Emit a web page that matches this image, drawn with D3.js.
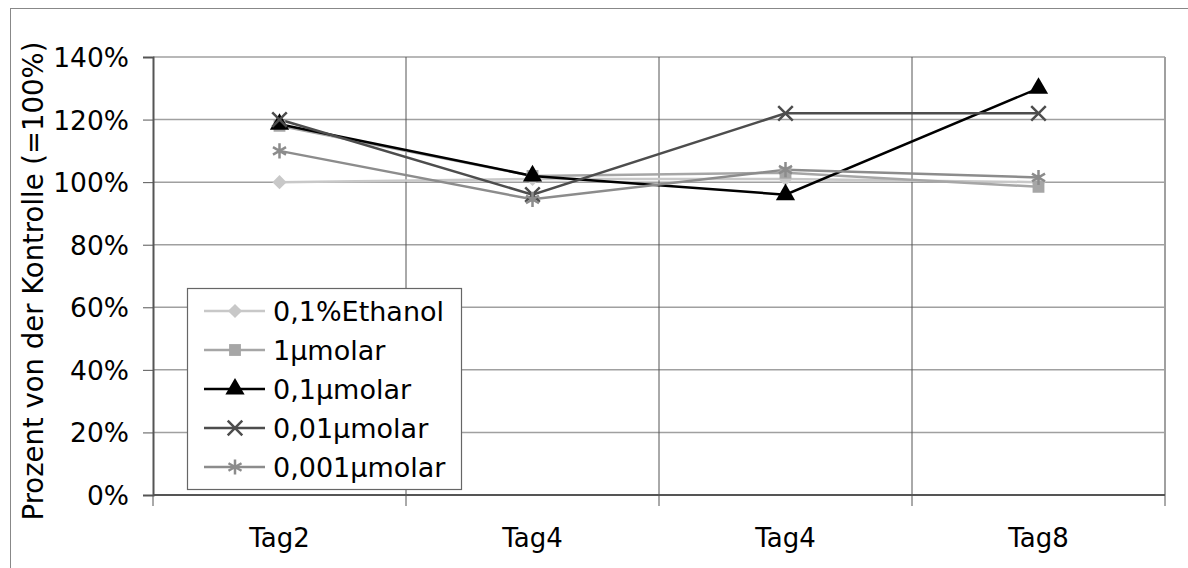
<!DOCTYPE html>
<html>
<head>
<meta charset="utf-8">
<script src="https://cdn.jsdelivr.net/npm/d3@7"></script>
<style>
  body { margin: 0; background: #fff; }
  svg { display: block; font-family: "DejaVu Sans", Verdana, sans-serif; }
</style>
</head>
<body>
<svg id="chart" width="1188" height="568"></svg>
<script>
// Categories (two columns are both labelled "Tag4" in the original)
const categories = ['Tag2', 'Tag4', 'Tag4', 'Tag8'];
const yTicks = [0, 20, 40, 60, 80, 100, 120, 140];

const seriesNames = ['0,1%Ethanol', '1µmolar', '0,1µmolar', '0,01µmolar', '0,001µmolar'];
const ethanol  = [100, 101, 101, 100];
const molar1   = [118, 102, 103, 98.5];
const molar01  = [118.5, 102, 96, 130];
const molar001 = [120, 96, 122, 122];
const molar0001 = [110, 94.5, 104, 101.5];

const seriesColors = ['#c8c8c8', '#a6a6a6', '#000000', '#4d4d4d', '#8c8c8c'];
// diamond is drawn as a square turned by 45 degrees
const seriesSymbols = [d3.symbolSquare, d3.symbolSquare, d3.symbolTriangle, d3.symbolX, d3.symbolAsterisk];
const symbolRotate = [45, 0, 0, 0, 0];
const symbolSizes = [100, 140, 160, 140, 160];

const series = [ethanol, molar1, molar01, molar001, molar0001].map((values, i) => ({
  name: seriesNames[i], values, color: seriesColors[i], symbol: seriesSymbols[i],
  size: symbolSizes[i], rotate: symbolRotate[i]
}));

const svg = d3.select('#chart');
const margin = { top: 57, right: 23, bottom: 73, left: 153 };
const width = 1188 - margin.left - margin.right;
const height = 568 - margin.top - margin.bottom;

// outer frame
svg.append('rect')
  .attr('x', 10.5).attr('y', 8.5)
  .attr('width', 1188).attr('height', 580)
  .attr('fill', 'none').attr('stroke', '#888').attr('stroke-width', 1);

const g = svg.append('g').attr('transform', `translate(${margin.left},${margin.top})`);

const x = d3.scaleBand().domain(d3.range(categories.length)).range([0, width]);
const y = d3.scaleLinear().domain([0, 140]).range([height, 0]);

// horizontal gridlines
g.append('g')
  .selectAll('line')
  .data(yTicks.filter(t => t > 0))
  .join('line')
  .attr('x1', 0).attr('x2', width)
  .attr('y1', d => y(d)).attr('y2', d => y(d))
  .attr('stroke', '#a0a0a0').attr('stroke-width', 1.5);

// vertical gridlines between categories
g.append('g')
  .selectAll('line')
  .data(d3.range(1, categories.length))
  .join('line')
  .attr('x1', d => x(d)).attr('x2', d => x(d))
  .attr('y1', 0).attr('y2', height)
  .attr('stroke', '#555').attr('stroke-width', 1);

// right border of plot
g.append('line')
  .attr('x1', width).attr('x2', width).attr('y1', 0).attr('y2', height)
  .attr('stroke', '#a0a0a0').attr('stroke-width', 2);

// y axis
const yAxis = g.append('g')
  .call(d3.axisLeft(y).tickValues(yTicks).tickSize(10).tickPadding(14).tickFormat(d => d + '%'));
yAxis.select('.domain').attr('stroke', '#555').attr('stroke-width', 2);
yAxis.selectAll('.tick line').attr('stroke', '#555').attr('stroke-width', 1);
yAxis.selectAll('.tick text').attr('font-size', 26.5).attr('fill', '#000').attr('dy', '0.36em')
  .style('font-family', '"DejaVu Sans", sans-serif');

// x axis: ticks at category boundaries
const xAxisG = g.append('g').attr('transform', `translate(0,${height})`);
xAxisG.append('line')
  .attr('x1', 0).attr('x2', width).attr('y1', 0).attr('y2', 0)
  .attr('stroke', '#555').attr('stroke-width', 2);
xAxisG.selectAll('line.tk')
  .data(d3.range(0, categories.length + 1))
  .join('line').attr('class', 'tk')
  .attr('x1', d => d === categories.length ? width : x(d))
  .attr('x2', d => d === categories.length ? width : x(d))
  .attr('y1', 0).attr('y2', 11)
  .attr('stroke', '#555').attr('stroke-width', 1);
xAxisG.selectAll('text')
  .data(categories)
  .join('text')
  .attr('x', (d, i) => x(i) + x.bandwidth() / 2)
  .attr('y', 52)
  .attr('text-anchor', 'middle')
  .attr('font-size', 26)
  .text(d => d);

// y axis title
svg.append('text')
  .attr('transform', 'translate(43,281) rotate(-90)')
  .attr('text-anchor', 'middle')
  .attr('font-size', 27.5)
  .text('Prozent von der Kontrolle (=100%)');

// lines
const line = d3.line().x((d, i) => x(i) + x.bandwidth() / 2).y(d => y(d));

series.forEach(s => {
  g.append('path')
    .datum(s.values)
    .attr('d', line)
    .attr('fill', 'none')
    .attr('stroke', s.color)
    .attr('stroke-width', 2.5);
});

function drawSymbol(sel, s) {
  const stroked = s.symbol === d3.symbolX || s.symbol === d3.symbolAsterisk;
  sel.attr('d', d3.symbol().type(s.symbol).size(s.size))
    .attr('fill', stroked ? 'none' : s.color)
    .attr('stroke', stroked ? s.color : 'none')
    .attr('stroke-width', stroked ? 2.5 : 0);
}

series.forEach(s => {
  g.append('g')
    .selectAll('path')
    .data(s.values)
    .join('path')
    .attr('transform', (d, i) => `translate(${x(i) + x.bandwidth() / 2},${y(d)}) rotate(${s.rotate})`)
    .call(drawSymbol, s);
});

// legend
const legend = svg.append('g').attr('transform', 'translate(187,288)');
legend.append('rect')
  .attr('x', 0.5).attr('y', 0.5)
  .attr('width', 274).attr('height', 201)
  .attr('fill', '#fff').attr('stroke', '#666').attr('stroke-width', 1.2);

const items = legend.selectAll('g.item')
  .data(series)
  .join('g').attr('class', 'item')
  .attr('transform', (d, i) => `translate(0,${23 + i * 39})`);
items.append('line')
  .attr('x1', 17).attr('x2', 78).attr('y1', 0).attr('y2', 0)
  .attr('stroke', d => d.color).attr('stroke-width', 2.5);
items.append('path')
  .attr('transform', d => `translate(48,0) rotate(${d.rotate})`)
  .each(function (d) { d3.select(this).call(drawSymbol, d); });
items.append('text')
  .attr('x', 86).attr('y', 0).attr('dy', '0.36em')
  .attr('font-size', 27)
  .text(d => d.name);
</script>
</body>
</html>
